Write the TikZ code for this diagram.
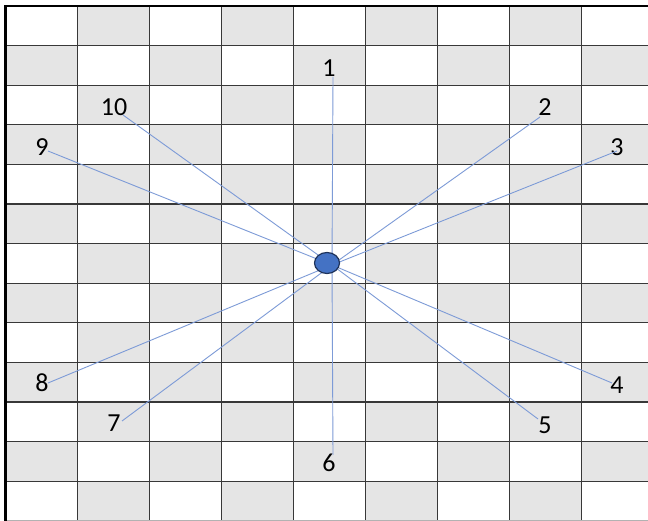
\documentclass[tikz,border=0pt]{standalone}
\usepackage{fontspec}
\setmainfont{Carlito}
\usetikzlibrary{shapes.geometric}
\definecolor{raycol}{RGB}{125,155,215}
\definecolor{dotfill}{RGB}{68,114,196}
\definecolor{dotedge}{RGB}{30,50,90}

\begin{document}
\begin{tikzpicture}[
  x=1pt, y=-1pt,
  cell/.style={fill=black!10, draw=none},
  gridline/.style={draw=black!78, line width=1.2pt},
  ray/.style={draw=raycol, line width=0.9pt},
  num/.style={font=\fontsize{26}{28}\selectfont, inner sep=0pt},
  hubdot/.style={ellipse, draw=dotedge, line width=1.2pt, fill=dotfill, minimum width=25pt, minimum height=21pt, inner sep=0pt}
]
\useasboundingbox (0,0) rectangle (648,521);
\clip (0,0) rectangle (648,521);
\fill[white] (0,0) rectangle (648,521);
\foreach \r in {0,...,12}
  \foreach \c in {0,...,8} {
    \pgfmathparse{int(mod(\r+\c,2))}
    \ifnum\pgfmathresult=1
      \fill[cell] (5.5+72*\c,6+39.6*\r) rectangle (5.5+72*\c+72,6+39.6*\r+39.6);
    \fi
  }
\foreach \c in {1,...,8}
  \draw[gridline] (5.5+72*\c,6) -- (5.5+72*\c,521);
\foreach \r in {1,...,12}
  \draw[gridline] (5.5,6+39.6*\r) -- (648,6+39.6*\r);
\draw[black!30, line width=1pt] (5.5,520.5) -- (648,520.5);
\draw[black, line width=2.2pt] (5.5,521) -- (5.5,6) -- (648,6);

\coordinate (hub) at (332,265);
\node[num] (n1)  at (329,68)  {1};
\node[num] (n2)  at (545,107) {2};
\node[num] (n3)  at (617,147) {3};
\node[num] (n4)  at (617,385) {4};
\node[num] (n5)  at (545,425) {5};
\node[num] (n6)  at (329,463) {6};
\node[num] (n7)  at (114,423) {7};
\node[num] (n8)  at (42,383)  {8};
\node[num] (n9)  at (42,147)  {9};
\node[num] (n10) at (114,107) {10};
\coordinate (e1)  at (333,77);
\coordinate (e2)  at (540,117);
\coordinate (e3)  at (617,151);
\coordinate (e4)  at (612,383);
\coordinate (e5)  at (538,419);
\coordinate (e6)  at (333,455);
\coordinate (e7)  at (122,421);
\coordinate (e8)  at (48,383);
\coordinate (e9)  at (48,151);
\coordinate (e10) at (123,115);
\foreach \i in {1,...,10}
  \draw[ray] (e\i) -- (hub);
\node[hubdot] (dot) at (327,263) {};
\end{tikzpicture}
\end{document}
